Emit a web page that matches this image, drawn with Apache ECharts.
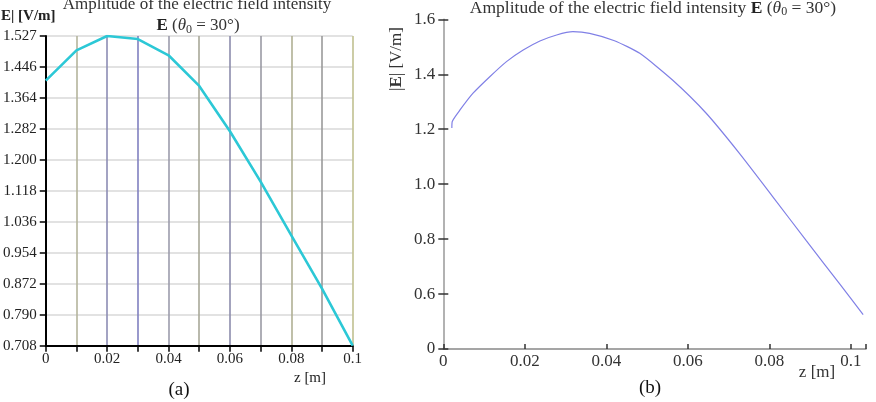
<!DOCTYPE html>
<html>
<head>
<meta charset="utf-8">
<script src="https://cdn.jsdelivr.net/npm/echarts@6/dist/echarts.min.js"></script>
<style>
  html, body { margin: 0; padding: 0; background: #fff; }
  #chart { width: 876px; height: 402px; }
</style>
</head>
<body>
<div id="chart"></div>
<script>
// (a) sampled values every 0.01 m
const leftZ = [0, 0.01, 0.02, 0.03, 0.04, 0.05, 0.06, 0.07, 0.08, 0.09, 0.1]
const leftE = [1.409, 1.489, 1.527, 1.519, 1.476, 1.395, 1.275, 1.142, 1.000, 0.859, 0.708]
const leftYTicks = [0.708, 0.790, 0.872, 0.954, 1.036, 1.118, 1.200, 1.282, 1.364, 1.446, 1.527]

// (b) smooth curve
const rightZ = [0.0021, 0.0022, 0.0041, 0.0073, 0.0114, 0.0155, 0.0196, 0.0237, 0.0278, 0.0318,
  0.0359, 0.0420, 0.0482, 0.0563, 0.0645, 0.0726, 0.0808, 0.0890, 0.0971, 0.1030]
const rightE = [1.204, 1.228, 1.270, 1.331, 1.391, 1.446, 1.488, 1.521, 1.543, 1.555,
  1.549, 1.522, 1.476, 1.378, 1.258, 1.113, 0.955, 0.795, 0.640, 0.525]

const serif = 'Liberation Serif'

// vertical grid colours of (a), mix of blue-grey and yellowish
const vLineColors = ['#000', '#b4b49c', '#8c8cb4', '#8080c0', '#9c9cac', '#a8a898',
  '#8c8cac', '#9a9aa4', '#b0b094', '#9a9a9a', '#c0c090']

const pair = (xs, ys) => xs.map((x, i) => [x, ys[i]])

const zLabel = v => {
  const k = Math.round(v * 100)
  if (k % 2 || v > 0.1001) return ''
  return k === 0 ? '0' : String(+(k / 100).toFixed(2))
}

const chart = echarts.init(document.getElementById('chart'))

const rightGrid = { left: 443.3, right: 10, top: 19.3, bottom: 53 }

chart.setOption({
  animation: false,
  textStyle: { fontFamily: serif },
  grid: [
    { left: 42.7, right: 523.3, top: 36, bottom: 56.3 },
    rightGrid,
    rightGrid,
  ],
  xAxis: [
    {
      gridIndex: 0,
      type: 'value',
      min: 0,
      max: 0.1,
      interval: 0.01,
      axisLine: { lineStyle: { color: '#000', width: 2 } },
      axisTick: { show: true, length: 6, lineStyle: { color: '#000', width: 1.5 } },
      axisLabel: { color: '#222', fontSize: 15, margin: 6, formatter: zLabel },
      splitLine: { show: true, lineStyle: { color: vLineColors, width: 1.6 } },
    },
    {
      gridIndex: 1,
      type: 'value',
      min: 0,
      max: 0.1037,
      interval: 0.02,
      axisLine: { lineStyle: { color: '#888', width: 1.5 } },
      axisTick: { show: true, inside: true, length: 5, lineStyle: { color: '#333', width: 1.5 } },
      axisLabel: { color: '#333', fontSize: 17, margin: 4, formatter: zLabel },
      splitLine: { show: false },
    },
    {
      gridIndex: 2,
      type: 'value',
      min: 0,
      max: 0.1037,
      show: false,
    },
  ],
  yAxis: [
    {
      gridIndex: 0,
      type: 'value',
      min: 0.708,
      max: 1.527,
      axisLine: { show: true, lineStyle: { color: '#000', width: 2 } },
      axisTick: { show: true, length: 6, customValues: leftYTicks, lineStyle: { color: '#000', width: 1.5 } },
      axisLabel: {
        color: '#222',
        fontSize: 15,
        margin: 9,
        customValues: leftYTicks,
        formatter: v => v.toFixed(3),
      },
      splitLine: { show: true, lineStyle: { color: '#d9d9d9', width: 1.5 } },
    },
    {
      gridIndex: 1,
      type: 'value',
      min: 0.4,
      max: 1.6,
      interval: 0.2,
      axisLine: { show: true, lineStyle: { color: '#999', width: 1.5 } },
      axisTick: { show: true, length: 5, lineStyle: { color: '#333', width: 1.5 } },
      axisLabel: {
        color: '#333',
        fontSize: 17,
        margin: 8,
        // the picture breaks the axis: lowest tick is shown as 0
        formatter: v => (Math.abs(v - 0.4) < 1e-6 ? '0' : v.toFixed(1)),
      },
      splitLine: { show: false },
    },
    {
      // second copy only for the inner half of the crossing ticks
      gridIndex: 2,
      type: 'value',
      position: 'left',
      min: 0.4,
      max: 1.6,
      interval: 0.2,
      axisLine: { show: false },
      axisTick: { show: true, inside: true, length: 5, lineStyle: { color: '#333', width: 1.5 } },
      axisLabel: { show: false },
      splitLine: { show: false },
    },
  ],
  series: [
    {
      type: 'line',
      xAxisIndex: 0,
      yAxisIndex: 0,
      data: pair(leftZ, leftE),
      showSymbol: false,
      lineStyle: { color: '#2cc8d6', width: 2.6 },
    },
    {
      type: 'line',
      xAxisIndex: 1,
      yAxisIndex: 1,
      data: pair(rightZ, rightE),
      showSymbol: false,
      smooth: 0.2,
      lineStyle: { color: '#8080e6', width: 1.2 },
    },
  ],
  graphic: [
    {
      type: 'text', x: 197, y: 5,
      style: {
        text: 'Amplitude of the electric field intensity',
        font: '17px "Liberation Serif"', fill: '#333', align: 'center', verticalAlign: 'middle',
      },
    },
    {
      type: 'text', x: 198, y: 26,
      style: {
        text: '{b|E} ({i|θ}{s|0} = 30°)',
        fill: '#333', align: 'center', verticalAlign: 'middle',
        font: '17px "Liberation Serif"',
        rich: {
          b: { fontWeight: 'bold', fontSize: 17, fontFamily: serif, fill: '#222' },
          i: { fontStyle: 'italic', fontSize: 17, fontFamily: serif },
          s: { fontSize: 12, fontFamily: serif, padding: [8, 0, 0, 0] },
        },
      },
    },
    {
      type: 'text', x: 1, y: 16,
      style: {
        text: 'E| [V/m]',
        font: 'bold 15px "Liberation Serif"', fill: '#222', verticalAlign: 'middle',
      },
    },
    {
      type: 'text', x: 310, y: 378,
      style: { text: 'z [m]', font: '15px "Liberation Serif"', fill: '#222', align: 'center', verticalAlign: 'middle' },
    },
    {
      type: 'text', x: 179, y: 390,
      style: { text: '(a)', font: '19px "Liberation Serif"', fill: '#111', align: 'center', verticalAlign: 'middle' },
    },
    {
      type: 'text', x: 653, y: 8,
      style: {
        text: 'Amplitude of the electric field intensity {b|E} ({i|θ}{s|0} = 30°)',
        fill: '#333', align: 'center', verticalAlign: 'middle',
        font: '17.5px "Liberation Serif"',
        rich: {
          b: { fontWeight: 'bold', fontSize: 17.5, fontFamily: serif, fill: '#222' },
          i: { fontStyle: 'italic', fontSize: 17.5, fontFamily: serif },
          s: { fontSize: 12, fontFamily: serif, padding: [8, 0, 0, 0] },
        },
      },
    },
    {
      type: 'text', x: 397, y: 59, rotation: Math.PI / 2,
      style: {
        text: '|{b|E}| [V/m]',
        font: '17px "Liberation Serif"', fill: '#333', align: 'center', verticalAlign: 'middle',
        rich: { b: { fontWeight: 'bold', fontSize: 17, fontFamily: serif } },
      },
    },
    {
      type: 'text', x: 817, y: 373,
      style: { text: 'z [m]', font: '17px "Liberation Serif"', fill: '#333', align: 'center', verticalAlign: 'middle' },
    },
    {
      type: 'text', x: 650, y: 388,
      style: { text: '(b)', font: '19px "Liberation Serif"', fill: '#111', align: 'center', verticalAlign: 'middle' },
    },
  ],
})
</script>
</body>
</html>
